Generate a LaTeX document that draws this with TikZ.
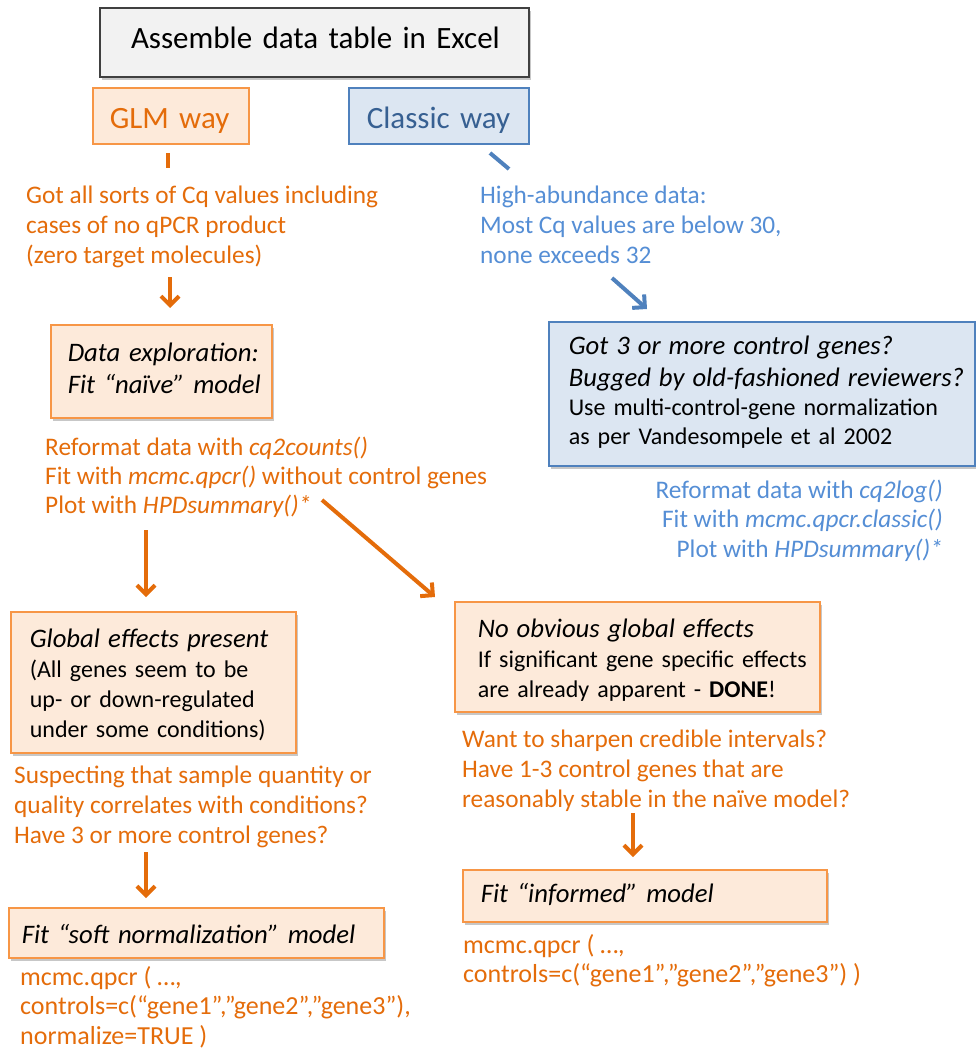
\documentclass[tikz,border=0pt]{standalone}
\usepackage{fontspec}
\setmainfont{Carlito}
\usetikzlibrary{arrows.meta,shadows}
\definecolor{otext}{HTML}{E46C0A}
\definecolor{oline}{HTML}{F79646}
\definecolor{ofill}{HTML}{FDEADA}
\definecolor{btext}{HTML}{558ED5}
\definecolor{bdark}{HTML}{376092}
\definecolor{bline}{HTML}{4F81BD}
\definecolor{bfill}{HTML}{DCE6F2}
\definecolor{gline}{HTML}{404040}
\definecolor{gfill}{HTML}{F2F2F2}
\newcommand\mlines[1]{\begin{tabular}[t]{@{}l@{}}#1\end{tabular}}
\newcommand\mrlines[1]{\begin{tabular}[t]{@{}r@{}}#1\end{tabular}}
\newcommand\fbody{\fontsize{24}{30}\selectfont}
\newcommand\ffree{\fontsize{25.3}{30}\selectfont}
\newcommand\fcode{\fontsize{26}{29.5}\selectfont}
\newcommand\fhead{\fontsize{26.7}{32}\selectfont\itshape}
\newcommand\ftitle{\fontsize{31}{37}\selectfont}
\tikzset{
  box/.style={draw, inner ysep=0pt, align=left, anchor=north west},
  shad/.style={drop shadow={shadow xshift=2pt, shadow yshift=-3pt, opacity=0.22, fill=black}},
  obox/.style={box, draw=oline, fill=ofill, line width=1.6pt},
  bbox/.style={box, draw=bline, fill=bfill, line width=1.6pt},
  gbox/.style={box, draw=gline, fill=gfill, line width=2pt},
  otxt/.style={text=otext, inner sep=0pt, anchor=base west, font=\ffree},
  btxt/.style={text=btext, inner sep=0pt, anchor=base west, font=\ffree},
  oarrow/.style={draw=otext, line width=4pt, -{Straight Barb[length=9pt,width=18pt]}},
  barrow/.style={draw=bline, line width=4pt, -{Straight Barb[length=9pt,width=18pt]}},
  ostub/.style={draw=otext, line width=4pt},
  bstub/.style={draw=bline, line width=4pt},
}
\begin{document}
\begin{tikzpicture}[x=1pt,y=-1pt]
\useasboundingbox (0,0) rectangle (975,1051);

% top boxes
\node[gbox, shad, font=\ftitle, inner xsep=31pt, text width=367pt, text height=41pt, text depth=28pt] (title) at (99,7) {\mlines{Assemble data table in Excel}};
\node[obox, text=otext, font=\ftitle, inner xsep=17pt, text width=122pt, text height=41pt, text depth=15pt] (glm) at (92,87) {\mlines{GLM way}};
\node[bbox, text=bdark, font=\ftitle, inner xsep=18pt, text width=144pt, text height=41pt, text depth=15pt] (classic) at (348,87) {\mlines{Classic way}};

% stubs
\coordinate (s1a) at (168,153);
\coordinate (s1b) at (168,168);
\coordinate (s2a) at (490,153);
\coordinate (s2b) at (509,169);
\draw[ostub] (s1a) -- (s1b);
\draw[bstub] (s2a) -- (s2b);

% GLM column
\node[otxt] (t1) at (26,203) {\mlines{Got all sorts of Cq values including\\cases of no qPCR product\\(zero target molecules)}};

\node[obox, shad, font=\fhead, inner xsep=17pt, text width=187pt, text height=37pt, text depth=56pt] (dexp) at (50,324) {\mlines{Data exploration:\\Fit “naïve” model}};

\node[otxt, font=\fontsize{25.3}{29}\selectfont] (t2) at (45,455) {\mlines{Reformat data with \textit{cq2counts()}\\Fit with \textit{mcmc.qpcr()} without control genes\\Plot with \textit{HPDsummary()*}}};

\node[obox, shad, font=\fbody, inner xsep=19pt, text width=247pt, text height=36pt, text depth=105pt] (glob) at (10,611) {\mlines{\fhead Global effects present\\(All genes seem to be\\up- or down-regulated\\under some conditions)}};

\node[otxt] (t3) at (14,783) {\mlines{Suspecting that sample quantity or\\quality correlates with conditions?\\Have 3 or more control genes?}};

\node[obox, shad, font=\fhead, inner xsep=13pt, text width=349pt, text height=36pt, text depth=14pt] (soft) at (8,907) {\mlines{Fit “soft normalization” model}};

\node[otxt, font=\fcode] (t4) at (20,985) {\mlines{mcmc.qpcr ( …,\\controls=c(“gene1”,”gene2”,”gene3”),\\normalize=TRUE )}};

% right orange column
\node[obox, shad, font=\fbody, inner xsep=23pt, text width=319pt, text height=36pt, text depth=74pt] (noobv) at (454,601) {\mlines{\fhead No obvious global effects\\If significant gene specific effects\\are already apparent - \textbf{DONE}!}};

\node[otxt] (t5) at (462,747) {\mlines{Want to sharpen credible intervals?\\Have 1-3 control genes that are\\reasonably stable in the naïve model?}};

\node[obox, shad, font=\fhead, inner xsep=18pt, text width=328pt, text height=33pt, text depth=19pt] (inf) at (462,869) {\mlines{Fit “informed” model}};

\node[otxt, font=\fcode] (t6) at (463,953) {\mlines{mcmc.qpcr ( …,\\controls=c(“gene1”,”gene2”,”gene3”) )}};

% classic column
\node[btxt] (b1) at (480,203) {\mlines{High-abundance data:\\Most Cq values are below 30,\\none exceeds 32}};

\node[bbox, shad, font=\fontsize{24}{29}\selectfont, inner xsep=20pt, text width=386pt, text height=33pt, text depth=111pt] (vand) at (548,321) {\mlines{{\fhead Got 3 or more control genes?}\\[3pt]{\fhead Bugged by old-fashioned reviewers?}\\Use multi-control-gene normalization\\as per Vandesompele et al 2002}};

\node[text=btext, inner sep=0pt, anchor=base east, font=\fontsize{25.3}{29.5}\selectfont] (b2) at (943,498) {\mrlines{Reformat data with \textit{cq2log()}\\Fit with \textit{mcmc.qpcr.classic()}\\Plot with \textit{HPDsummary()*}}};

% arrows
\coordinate (a1s) at (170,277); \coordinate (a1e) at (170,308);
\coordinate (a2s) at (146,530); \coordinate (a2e) at (146,597);
\coordinate (a3s) at (322,500); \coordinate (a3e) at (435,597);
\coordinate (a4s) at (146,852); \coordinate (a4e) at (146,898);
\coordinate (a5s) at (633,813); \coordinate (a5e) at (633,857);
\coordinate (abs) at (612,278); \coordinate (abe) at (647,309);
\draw[oarrow] (a1s) -- (a1e);
\draw[oarrow] (a2s) -- (a2e);
\draw[oarrow] (a3s) -- (a3e);
\draw[oarrow] (a4s) -- (a4e);
\draw[oarrow] (a5s) -- (a5e);
\draw[barrow] (abs) -- (abe);
\end{tikzpicture}
\end{document}
